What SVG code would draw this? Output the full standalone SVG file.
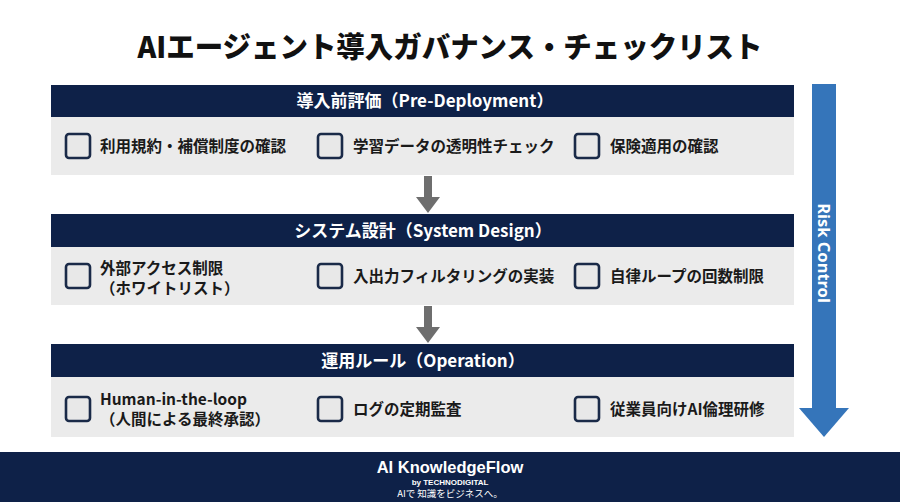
<svg xmlns="http://www.w3.org/2000/svg" width="900" height="502" viewBox="0 0 900 502">
<style>
.hdr{fill:#0e2148}
.body{fill:#ebebeb}
.hdrt{font-family:"Noto Sans CJK JP","Noto Sans",sans-serif;font-size:17px;font-weight:700;fill:#ffffff;text-anchor:middle}
.cb{fill:#e8e8e8;stroke:#1a2a48;stroke-width:2.6}
.it{font-family:"Noto Sans CJK JP","Noto Sans",sans-serif;font-size:15.5px;font-weight:700;fill:#1a1a1a}
.ga{fill:#6e6e6e}
</style>
<rect width="900" height="502" fill="#ffffff"/>
<text x="450" y="58" font-family="'Noto Sans CJK JP',sans-serif" font-size="29" font-weight="900" text-anchor="middle" fill="#111" textLength="625" lengthAdjust="spacingAndGlyphs">AIエージェント導入ガバナンス・チェックリスト</text>

<g id="connectors">
  <g id="blue-arrow">
    <rect x="812" y="84" width="24" height="324" fill="#3575ba"/>
    <polygon points="799,408 849,408 824,437" fill="#3575ba"/>
    <text transform="translate(824,253) rotate(90)" font-family="'Noto Sans',sans-serif" font-size="16.5" font-weight="700" fill="#fff" text-anchor="middle" dominant-baseline="central">Risk Control</text>
  </g>
  <g id="arrow1">
    <rect x="424" y="176" width="8" height="22" class="ga"/>
    <polygon points="416,197 440,197 428,213" class="ga"/>
  </g>
  <g id="arrow2">
    <rect x="424" y="306" width="8" height="22" class="ga"/>
    <polygon points="416,327 440,327 428,343" class="ga"/>
  </g>
</g>

<g id="section1">
  <rect x="51" y="85" width="743" height="32" class="hdr"/>
  <text x="425" y="107" class="hdrt">導入前評価（Pre-Deployment）</text>
  <rect x="51" y="117" width="743" height="58" class="body"/>
  <rect x="66" y="134" width="24" height="24" rx="3" class="cb"/>
  <text x="100" y="152" class="it">利用規約・補償制度の確認</text>
  <rect x="318" y="134" width="24" height="24" rx="3" class="cb"/>
  <text x="353" y="152" class="it">学習データの透明性チェック</text>
  <rect x="575" y="134" width="24" height="24" rx="3" class="cb"/>
  <text x="610" y="152" class="it">保険適用の確認</text>
</g>

<g id="section2">
  <rect x="51" y="214" width="743" height="33" class="hdr"/>
  <text x="423" y="237" class="hdrt">システム設計（System Design）</text>
  <rect x="51" y="247" width="743" height="58" class="body"/>
  <rect x="66" y="264" width="24" height="24" rx="3" class="cb"/>
  <text x="100" y="274" class="it">外部アクセス制限</text>
  <text x="100" y="294" class="it">（ホワイトリスト）</text>
  <rect x="318" y="264" width="24" height="24" rx="3" class="cb"/>
  <text x="353" y="282" class="it">入出力フィルタリングの実装</text>
  <rect x="575" y="264" width="24" height="24" rx="3" class="cb"/>
  <text x="610" y="282" class="it">自律ループの回数制限</text>
</g>

<g id="section3">
  <rect x="51" y="344" width="743" height="33" class="hdr"/>
  <text x="423" y="367" class="hdrt">運用ルール（Operation）</text>
  <rect x="51" y="377" width="743" height="60" class="body"/>
  <rect x="66" y="397" width="24" height="24" rx="3" class="cb"/>
  <text x="100" y="405" class="it">Human-in-the-loop</text>
  <text x="100" y="425" class="it">（人間による最終承認）</text>
  <rect x="318" y="397" width="24" height="24" rx="3" class="cb"/>
  <text x="353" y="415" class="it">ログの定期監査</text>
  <rect x="575" y="397" width="24" height="24" rx="3" class="cb"/>
  <text x="610" y="415" class="it">従業員向けAI倫理研修</text>
</g>

<g id="footer">
  <rect x="0" y="452" width="900" height="50" fill="#0e2148"/>
  <text x="450" y="473" font-family="'Liberation Sans',sans-serif" font-size="16.5" font-weight="700" fill="#fff" text-anchor="middle">AI KnowledgeFlow</text>
  <text x="450" y="485" font-family="'Liberation Sans',sans-serif" font-size="8" font-weight="700" fill="#fff" text-anchor="middle">by TECHNODIGITAL</text>
  <text x="450" y="497" font-family="'Noto Sans CJK JP',sans-serif" font-size="9.5" fill="#fff" text-anchor="middle">AIで 知識をビジネスへ。</text>
</g>
</svg>
